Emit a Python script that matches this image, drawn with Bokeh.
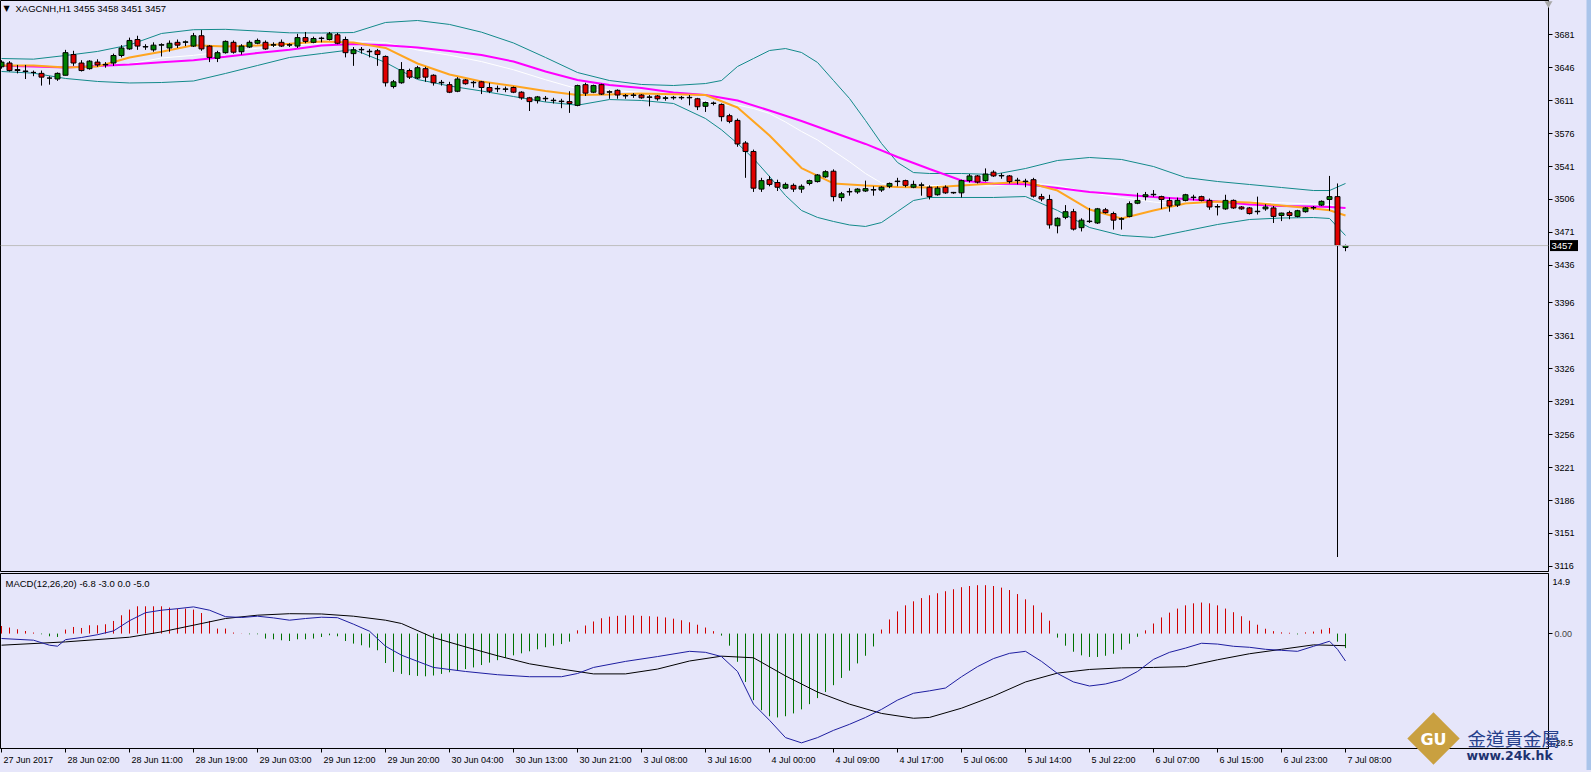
import math
from bokeh.plotting import figure
from bokeh.layouts import column
from bokeh.models import ColumnDataSource, FixedTicker, Span, Label, GlobalInlineStyleSheet
from bokeh.core.properties import value
from bokeh.embed import file_html
from bokeh.resources import INLINE

# ---------------- data ----------------
SYMBOL_TEXT = "XAGCNH,H1  3455 3458 3451 3457"
MACD_TEXT = "MACD(12,26,20) -6.8 -3.0 0.0 -5.0"
LAST_PRICE = 3457

OPEN = [3647, 3651, 3644, 3642, 3641, 3640, 3635, 3634, 3638, 3660, 3651, 3645, 3652, 3649, 3651, 3659, 3666, 3676, 3668, 3665,
        3670, 3667, 3673, 3673, 3669, 3680, 3669, 3656, 3662, 3673, 3663, 3668, 3672, 3673, 3670, 3673, 3670, 3669, 3678, 3673,
        3677, 3676, 3681, 3676, 3661, 3665, 3663, 3664, 3658, 3626, 3630, 3643, 3635, 3645, 3638, 3630, 3628, 3621, 3633, 3630,
        3631, 3625, 3623.5, 3623, 3625, 3620, 3614, 3611, 3613, 3611, 3610, 3610, 3606, 3628, 3620, 3628, 3620, 3622, 3616, 3616.5,
        3617, 3614.5, 3616, 3613.5, 3614, 3614, 3614, 3613, 3605, 3608, 3607, 3595, 3590, 3566, 3557, 3517, 3527, 3524, 3518, 3521,
        3517, 3523, 3525, 3530, 3536, 3508, 3514, 3514, 3515, 3516, 3516, 3520, 3525, 3526, 3519, 3521, 3519, 3511, 3519, 3513,
        3513, 3526, 3531, 3526, 3535, 3531, 3531, 3526, 3525, 3527, 3509, 3506, 3478, 3487, 3493, 3476, 3482.5, 3481, 3495, 3491,
        3485, 3488, 3502, 3509, 3511, 3509, 3505, 3500, 3505, 3508, 3509, 3505, 3498.5, 3496, 3505, 3498, 3497, 3493, 3496, 3497,
        3489, 3492, 3488, 3493, 3497, 3500, 3506, 3509, 3455]
HIGH = [3654, 3653, 3649, 3649, 3643, 3643, 3637, 3641, 3665, 3664, 3654, 3654, 3655, 3652, 3661, 3670, 3678, 3680, 3671, 3673,
        3672, 3675, 3676, 3675, 3683, 3686, 3670, 3664, 3675, 3675, 3671, 3675, 3677, 3675, 3673, 3676, 3672, 3682, 3684, 3679,
        3679, 3684, 3683, 3679, 3668, 3668, 3666, 3666, 3659, 3633, 3652, 3645, 3648, 3647, 3639, 3633, 3631, 3636, 3634, 3632,
        3632, 3630, 3627, 3626, 3626, 3621, 3615, 3616, 3616, 3614, 3613, 3621, 3628, 3630, 3628, 3629, 3622, 3623, 3618, 3619,
        3618, 3617, 3617, 3616, 3616, 3616, 3617, 3614, 3610, 3610, 3608, 3597, 3592, 3568, 3559, 3529, 3531, 3527, 3524, 3523,
        3522, 3527, 3533, 3537, 3538, 3514, 3518, 3518, 3526, 3520, 3520, 3524, 3529, 3527, 3526, 3524, 3521, 3520, 3521, 3514,
        3527, 3533, 3532, 3539, 3537, 3534, 3532, 3529, 3528, 3529, 3512, 3511, 3487, 3500, 3496, 3486, 3497, 3497, 3497, 3493,
        3487, 3504, 3513, 3514, 3516, 3510, 3508, 3508, 3512, 3511, 3510, 3507, 3501, 3511, 3506, 3499, 3498, 3509, 3501, 3499,
        3492, 3494, 3495, 3498, 3499, 3505, 3531, 3523, 3458]
LOW = [3645, 3642, 3640, 3634, 3637, 3627, 3628, 3632, 3638, 3648, 3642, 3644, 3647, 3646, 3648, 3657, 3665, 3665, 3665, 3663,
       3658, 3663, 3667, 3669, 3668, 3664, 3652, 3652, 3661, 3661, 3660, 3667, 3671, 3665, 3668, 3668, 3668, 3667, 3672, 3672,
       3673, 3675, 3671, 3657, 3648, 3661, 3657, 3648, 3626, 3624, 3629, 3634, 3634, 3631, 3627, 3627, 3619, 3620, 3628, 3625,
       3618, 3619, 3620, 3620, 3619, 3612, 3600, 3608, 3610, 3608, 3603, 3598, 3605, 3616, 3619, 3617, 3613, 3613, 3613, 3614,
       3613, 3605, 3611, 3611, 3612, 3612, 3606, 3601, 3599, 3606, 3589, 3587, 3562, 3529, 3514, 3514, 3520, 3515, 3517, 3514,
       3513, 3521, 3524, 3529, 3504, 3504, 3510, 3512, 3514, 3510, 3514, 3518, 3520, 3519, 3518, 3510, 3506, 3510, 3512, 3512,
       3508, 3524, 3523, 3525, 3530, 3528, 3523, 3522, 3519, 3508, 3504, 3475, 3470, 3485, 3473, 3472, 3481, 3480, 3491, 3474,
       3474, 3487, 3501, 3505, 3509, 3496, 3493, 3498, 3504, 3505, 3504, 3495, 3489, 3495, 3496, 3495, 3490, 3490, 3494, 3481,
       3483, 3485, 3487, 3492, 3495, 3499, 3494, 3126, 3451]
CLOSE = [3652, 3643, 3643, 3642.5, 3641, 3636, 3635, 3640, 3662, 3651, 3643, 3653, 3649, 3649.5, 3659, 3667, 3675, 3669, 3668.5, 3670,
         3670.5, 3672, 3670, 3673.5, 3680, 3666, 3657, 3662, 3674, 3662.5, 3669, 3673, 3675, 3666, 3670.5, 3669, 3670.5, 3678, 3674, 3677,
         3677.5, 3682, 3672, 3662, 3665, 3665.5, 3663.5, 3660, 3630, 3631, 3644, 3636, 3646, 3636, 3630, 3630.5, 3620, 3634, 3629, 3630.5,
         3625, 3621, 3624, 3623.5, 3620, 3614, 3610, 3615, 3613.5, 3611.5, 3610.5, 3608, 3627, 3619, 3627, 3618, 3620.5, 3617, 3616.5, 3617,
         3614, 3615, 3613, 3614, 3614.5, 3614.5, 3614.5, 3604.5, 3609, 3608.5, 3594, 3589, 3565, 3557, 3518, 3526, 3522, 3519, 3522, 3517,
         3520, 3526, 3532, 3535.5, 3509, 3512, 3514.5, 3517, 3517.5, 3516.5, 3519, 3523, 3525.5, 3521, 3522, 3521.5, 3509, 3518, 3513, 3513.5,
         3526, 3531, 3524.5, 3533, 3531, 3531.5, 3525, 3526.5, 3525.5, 3509.5, 3506.5, 3479, 3486, 3493, 3474.5, 3484, 3483, 3496, 3492, 3484,
         3485.5, 3501.5, 3505, 3511, 3511.5, 3506, 3499, 3505, 3511, 3508.5, 3505, 3498, 3498, 3505, 3497, 3496, 3491, 3493.5, 3498, 3488,
         3491.5, 3489, 3494, 3497, 3497.5, 3504, 3509, 3457, 3457]

# Bollinger bands sampled at bar indices (denser where the bands bend sharply)
BB_K = [0, 4, 8, 12, 16, 20, 24, 28, 32, 36, 40, 44, 48, 52, 56, 60, 64, 68, 72, 76, 80, 84,
        88, 90, 92, 94, 96, 98, 100, 102, 104, 106, 108, 110, 112, 114, 116,
        120, 124, 128, 132, 136, 140, 144, 148, 152, 156, 160, 164, 166, 168]
BB_UPPER = [3655.8, 3655.1, 3659, 3663.3, 3670.2, 3682.4, 3686.4, 3686.8, 3685, 3683.1, 3682.9, 3683.4, 3694.1, 3696.2,
            3692, 3683.8, 3672.3, 3656.9, 3640.9, 3632.4, 3628.2, 3627.1,
            3629.2, 3632.4, 3647.3, 3655.8, 3664.3, 3666.4, 3662.2, 3651.6, 3632.4, 3613.3, 3589.9, 3565.5, 3545.3,
            3534.6, 3533.6,
            3533.6, 3532.5, 3538.9, 3547.4, 3550.6, 3548.5, 3541, 3529.3, 3525.1, 3521.9, 3518.7, 3515.5, 3515.5, 3523]
BB_LOWER = [3642, 3640.2, 3634.6, 3631.4, 3629.8, 3630.3, 3631.9, 3639.9, 3648.4, 3656.9, 3661.1, 3665.4, 3651.6, 3633.5,
            3626.6, 3621.3, 3615.4, 3609.6, 3606.2, 3612.2, 3611.2, 3608,
            3592, 3580, 3565.5, 3549.5, 3530.4, 3510.2, 3494.3, 3486.9, 3482.6, 3478.9, 3477.3, 3481.5, 3493.2,
            3504.9, 3508.1,
            3508.1, 3508.1, 3509.1, 3494.3, 3476.2, 3467.7, 3465.6, 3472.5, 3479.4, 3484.7, 3486.3, 3486.8, 3485.8, 3467.7]

# moving averages sampled at bar indices
LINE_K = [0, 4, 8, 12, 16, 20, 24, 28, 32, 36, 40, 44, 48, 52, 56, 60, 64, 68, 72, 76, 80, 84,
          88, 92, 96, 100, 104, 108, 112, 116, 120, 124, 128, 132, 136, 140, 144, 148, 152, 156, 160, 164, 166, 168]
MA_FAST = [3648.4, 3648.4, 3646.3, 3647.3, 3656.9, 3663, 3670, 3668.6, 3669.6, 3671.4, 3673.9, 3672.8, 3667, 3650.5,
           3638.8, 3631.4, 3626.6, 3621.3, 3617, 3617.6, 3618.6, 3617.9, 3617, 3603.7, 3574, 3539.4, 3523, 3520.9,
           3519.3, 3518.7, 3520.9, 3523, 3524.6, 3515.5, 3495.3, 3485.8, 3494.3, 3501.7, 3503.9, 3502.8, 3499.6, 3496.4,
           3494.5, 3489]
MA_SLOW = [3648, 3647.3, 3646.3, 3647.8, 3649.4, 3651.8, 3654, 3657.6, 3661.7, 3665.2, 3669.6, 3671.2, 3669.8, 3667.5,
           3663.8, 3659.5, 3652.6, 3642, 3633, 3627.7, 3624.5, 3619.7, 3617, 3611.2, 3600.6, 3589.4, 3577.2, 3565,
           3551.1, 3538.4, 3526.2, 3522.7, 3522.2, 3518.2, 3513.9, 3511.3, 3508.6, 3506.5, 3503.9, 3500.7, 3499.1, 3498.5,
           3498, 3497]

MACD_K = [0, 4, 6, 7, 8, 10, 12, 14, 16, 18, 20, 22, 24, 26, 28, 30, 32, 34, 36, 38, 40, 42, 44, 46, 48, 50,
          54, 58, 62, 66, 70, 72, 74, 78, 82, 86, 88, 90, 92, 94, 96, 98, 100, 102, 104, 106, 108, 110, 112,
          114, 116, 118, 120, 122, 124, 126, 128, 130, 132, 134, 136, 138, 140, 142, 144, 146, 148, 150, 152,
          154, 156, 158, 160, 162, 164, 166, 167, 168]
MACD_MAIN = [-1.22, -1.64, -2.88, -3.13, -1.5, -0.97, -0.28, 0.66, 3.2, 5.18, 5.8, 6.17, 6.62, 5.8, 4.19, 3.99, 4.31,
             3.89, 3.32, 3.74, 4.06, 3.94, 2.33, 0.59, -3.13, -5.36, -8.4, -9.4, -10.2, -10.7, -10.7, -9.9, -8.4, -6.9,
             -5.7, -4.4, -4.65, -5.7, -9.4, -17.5, -21.5, -25.8, -27.1, -25.8, -24, -22.5, -20.8, -18.8, -16.5, -14.8,
             -14.2, -13.5, -10.7, -8.2, -6.2, -4.9, -4.4, -6.9, -9.9, -12, -13, -12.5, -11.5, -9.4, -6.4, -4.65, -3.6,
             -2.4, -2.6, -3.15, -3.4, -3.9, -4.15, -4.4, -3.15, -1.9, -3.9, -6.8]
SIGNAL_K = [0, 8, 16, 20, 24, 28, 32, 36, 40, 44, 48, 50, 54, 58, 62, 66, 70, 74, 78, 82, 86, 90, 94, 98, 102,
            106, 110, 114, 116, 120, 124, 128, 132, 136, 140, 144, 148, 152, 156, 160, 164, 168]
MACD_SIGNAL = [-2.88, -2.06, -0.9, 0.42, 2.08, 3.74, 4.56, 4.93, 4.86, 4.31, 3.32, 2.5, -1.0, -3.3, -5.5, -7.5, -8.8,
               -10.0, -10.0, -8.8, -6.8, -5.6, -6.0, -10.5, -14.5, -17.5, -19.8, -21.0, -20.8, -18.5, -15.5, -12,
               -9.8, -8.9, -8.5, -8.4, -8.2, -6.5, -5.0, -3.9, -2.8, -3.0]
MACD_HIST = [1.88, 1.49, 1.07, 0.64, 0.25, -0.17, -0.67, -0.84, 1.0, 1.64, 1.39, 2.06, 2.06, 2.31, 3.13, 4.54, 5.95, 6.77,
             6.77, 6.77, 6.77, 6.45, 6.2, 6.2, 5.95, 5.1, 3.13, 1.24, 1.24, 0.25, 0.05, -0.17, -0.17, -1.24, -1.41, -1.66,
             -1.84, -1.41, -1.41, -1.24, -0.84, -0.42, -0.67, -1.84, -2.48, -2.9, -3.47, -4.14, -7.3, -9.5,
             -10.0, -10.3, -10.5, -10.6, -10.4, -10.0, -9.6, -9.2, -8.8, -8.4, -7.8, -7.2, -6.6, -6.0, -5.4, -4.9, -4.4,
             -3.9, -3.4, -3.0, -2.6, -2.0, 0.8, 2.0, 3.0, 3.8, 4.2, 4.4, 4.5, 4.5, 4.4, 4.3, 4.2, 4.0, 3.7, 3.3, 2.8, 2.2,
             1.5, 0.6, -0.5, -3.0, -7.0, -12.0, -16.5, -19.0, -20.5, -20.8, -20.5, -19.8, -18.8, -17.5, -16.0, -14.5,
             -12.8, -11.0, -9.2, -7.4, -5.5, -3.2, 1.0, 3.5, 5.5, 7.0, 8.0, 8.8, 9.5, 10.0, 10.5, 11.0, 11.5, 11.8, 12.0,
             12.0, 11.8, 11.4, 10.8, 9.8, 8.5, 7.0, 5.2, 3.2, -1.0, -3.0, -4.5, -5.4, -5.8, -5.8, -5.5, -5.0, -4.0, -2.5,
             -0.8, 0.8, 2.5, 4.0, 5.2, 6.2, 7.0, 7.5, 7.7, 7.5, 7.0, 6.2, 5.3, 4.3, 3.2, 2.2, 1.2, 0.6, 0.3, 0.2, -0.2,
             0.3, 0.5, 1.0, 1.4, -2.0, -3.6]

PRICE_TICKS = [3681, 3646, 3611, 3576, 3541, 3506, 3471, 3436, 3396, 3361, 3326, 3291, 3256, 3221, 3186, 3151, 3116]
MACD_MAX_LABEL = "14.9"
MACD_MIN_LABEL = "-28.5"
DATE_K = [0, 8, 16, 24, 32, 40, 48, 56, 64, 72, 80, 88, 96, 104, 112, 120, 128, 136, 144, 152, 160, 168]
DATE_LABELS = ["27 Jun 2017", "28 Jun 02:00", "28 Jun 11:00", "28 Jun 19:00", "29 Jun 03:00", "29 Jun 12:00",
               "29 Jun 20:00", "30 Jun 04:00", "30 Jun 13:00", "30 Jun 21:00", "3 Jul 08:00", "3 Jul 16:00",
               "4 Jul 00:00", "4 Jul 09:00", "4 Jul 17:00", "5 Jul 06:00", "5 Jul 14:00", "5 Jul 22:00",
               "6 Jul 07:00", "6 Jul 15:00", "6 Jul 23:00", "7 Jul 08:00"]

# ---------------- geometry / style ----------------
BG = "#E6E6FA"
FONT = "Liberation Sans"
W = 1591
FRAME_W = 1548
RB = W - FRAME_W
X_START, X_END = -0.125, 193.375
MAIN_H = 572
MAIN_FRAME_H = MAIN_H - 1
Y_BOT, Y_TOP = 3110.6, 3717.45
MACD_H = 198
MACD_TOP_PX = 573
MACD_FRAME_H = 175
M_TOP, M_BOT = 14.9, -28.5


def kx(px):
    return X_START + px / FRAME_W * (X_END - X_START)


def py_main(py):
    return Y_TOP - py / MAIN_FRAME_H * (Y_TOP - Y_BOT)


def py_macd(py):
    return M_TOP - (py - MACD_TOP_PX) / MACD_FRAME_H * (M_TOP - M_BOT)


def free_text(fig, xs, ys, texts, size, color, font=FONT, style="normal", align="left", x_offset=0):
    fig.text(x=xs, y=ys, text=texts, text_font=value(font), text_font_size=value(size), text_color=color,
             text_font_style=value(style), text_align=value(align), text_baseline=value("middle"),
             x_offset=x_offset, level="overlay")


n = len(OPEN)
idx = list(range(n))
body_top = [max(o, c) for o, c in zip(OPEN, CLOSE)]
body_bot = [min(o, c) for o, c in zip(OPEN, CLOSE)]
body_col = ["#008000" if c > o else "#E00000" if c < o else "black" for o, c in zip(OPEN, CLOSE)]
candles = ColumnDataSource(dict(x=idx, h=HIGH, l=LOW, top=body_top, bot=body_bot, col=body_col))

# ---------------- main price panel ----------------
main = figure(width=W, height=MAIN_H, x_range=(X_START, X_END), y_range=(Y_BOT, Y_TOP),
              output_backend="svg", toolbar_location=None, y_axis_location="right", x_axis_location=None,
              min_border_left=0, min_border_right=RB, min_border_top=0, min_border_bottom=1,
              background_fill_color=BG, border_fill_color=BG, outline_line_color="black", outline_line_width=1)
main.grid.visible = False
ya = main.yaxis[0]
ya.ticker = FixedTicker(ticks=PRICE_TICKS)
ya.major_tick_out = 4
ya.major_tick_in = 0
ya.minor_tick_line_color = None
ya.major_tick_line_color = "black"
ya.axis_line_color = "black"
ya.major_label_text_font = FONT
ya.major_label_text_font_size = "9px"
ya.major_label_text_color = "black"
ya.major_label_standoff = 2

mid = [(u + l) / 2 for u, l in zip(BB_UPPER, BB_LOWER)]
main.line(BB_K, BB_UPPER, line_color="#138A8A", line_width=1)
main.line(BB_K, BB_LOWER, line_color="#138A8A", line_width=1)
main.line(BB_K, mid, line_color="white", line_width=1)
main.line(LINE_K, MA_SLOW, line_color="#FF00FF", line_width=2)
main.line(LINE_K, MA_FAST, line_color="#FFA520", line_width=2)

main.add_layout(Span(location=LAST_PRICE, dimension="width", line_color="#BEBEBE", line_width=1))
main.segment(x0="x", y0="l", x1="x", y1="h", source=candles, line_color="black", line_width=1)
main.vbar(x="x", top="top", bottom="bot", width=0.62, source=candles, fill_color="col", line_color="black",
          line_width=1)

main.add_layout(Label(x=kx(3), y=py_main(8), text="\u25BC", text_font="DejaVu Sans", text_font_size="8px",
                      text_color="black", text_baseline="middle", text_align="left"))
main.add_layout(Label(x=kx(15), y=py_main(8), text=SYMBOL_TEXT, text_font=FONT, text_font_size="9.5px",
                      text_color="black", text_baseline="middle", text_align="left"))

# chart-shift marker at the top right corner
main.scatter(x=[kx(1548)], y=[py_main(3)], marker="inverted_triangle", size=8, fill_color="#A8A8A8",
             line_color=None, level="overlay")

# current price box on the price scale
main.rect(x=[kx(1563.5)], y=[LAST_PRICE], width=28, height=11, width_units="screen", height_units="screen",
          fill_color="black", line_color=None, level="overlay")
free_text(main, [kx(1551)], [LAST_PRICE], [str(LAST_PRICE)], "9.5px", "white")

# window edge strip
main.quad(left=[kx(1586)], right=[kx(1593)], top=[py_main(-2)], bottom=[py_main(574)],
          fill_color="#A9C4EA", line_color=None, level="overlay")

# ---------------- MACD panel ----------------
macd = figure(width=W, height=MACD_H, x_range=main.x_range, y_range=(M_BOT, M_TOP),
              output_backend="svg", toolbar_location=None, y_axis_location="right",
              min_border_left=0, min_border_right=RB, min_border_top=1, min_border_bottom=MACD_H - 1 - MACD_FRAME_H,
              background_fill_color=BG, border_fill_color=BG, outline_line_color="black", outline_line_width=1)
macd.grid.visible = False
my = macd.yaxis[0]
my.ticker = FixedTicker(ticks=[0])
my.major_label_overrides = {0: "0.00"}
my.major_tick_out = 4
my.major_tick_in = 0
my.minor_tick_line_color = None
my.axis_line_color = "black"
my.major_label_text_font = FONT
my.major_label_text_font_size = "9px"
my.major_label_standoff = 2

mx = macd.xaxis[0]
mx.ticker = FixedTicker(ticks=DATE_K)
mx.major_label_overrides = {k: "" for k in DATE_K}
mx.major_tick_out = 4
mx.major_tick_in = 0
mx.minor_tick_line_color = None
mx.axis_line_color = "black"
mx.major_label_text_font_size = "1px"

hist_col = ["#D00000" if h > 0 else "#007000" for h in MACD_HIST]
hsrc = ColumnDataSource(dict(x=idx, h=MACD_HIST, z=[0] * n, col=hist_col))
macd.segment(x0="x", y0="z", x1="x", y1="h", source=hsrc, line_color="col", line_width=1)
macd.line(SIGNAL_K, MACD_SIGNAL, line_color="black", line_width=1)
macd.line(MACD_K, MACD_MAIN, line_color="#1E1EA0", line_width=1)

macd.add_layout(Label(x=kx(5), y=py_macd(583), text=MACD_TEXT, text_font=FONT, text_font_size="9.5px",
                      text_color="black", text_baseline="middle", text_align="left"))

# date labels (left-aligned at their ticks, as on the original terminal)
free_text(macd, DATE_K, [py_macd(759)] * len(DATE_K), DATE_LABELS, "9px", "black", x_offset=2)

# scale labels of the MACD window
free_text(macd, [kx(1552)], [py_macd(581)], [MACD_MAX_LABEL], "9px", "black")
free_text(macd, [kx(1552)], [py_macd(742)], [MACD_MIN_LABEL], "9px", "black")

# watermark logo
macd.scatter(x=[kx(1433)], y=[py_macd(738)], marker="square", size=37, angle=math.pi / 4,
             fill_color="#C9A040", line_color=None, level="overlay")
free_text(macd, [kx(1433)], [py_macd(739)], ["GU"], "16px", "white", font="DejaVu Sans", style="bold",
          align="center")
free_text(macd, [kx(1467)], [py_macd(737)], ["金道貴金屬"], "18.5px", "#26408B", font="Noto Sans CJK TC")
free_text(macd, [kx(1466)], [py_macd(755)], ["www.24k.hk"], "12.5px", "#1E3370", font="DejaVu Sans",
          style="bold")

# window edge strip
macd.quad(left=[kx(1586)], right=[kx(1593)], top=[py_macd(570)], bottom=[py_macd(775)],
          fill_color="#A9C4EA", line_color=None, level="overlay")

layout = column(main, macd, spacing=0,
                stylesheets=[GlobalInlineStyleSheet(css="body { background-color: #E6E6FA; }")])

open("out.html", "w").write(file_html(layout, INLINE))
